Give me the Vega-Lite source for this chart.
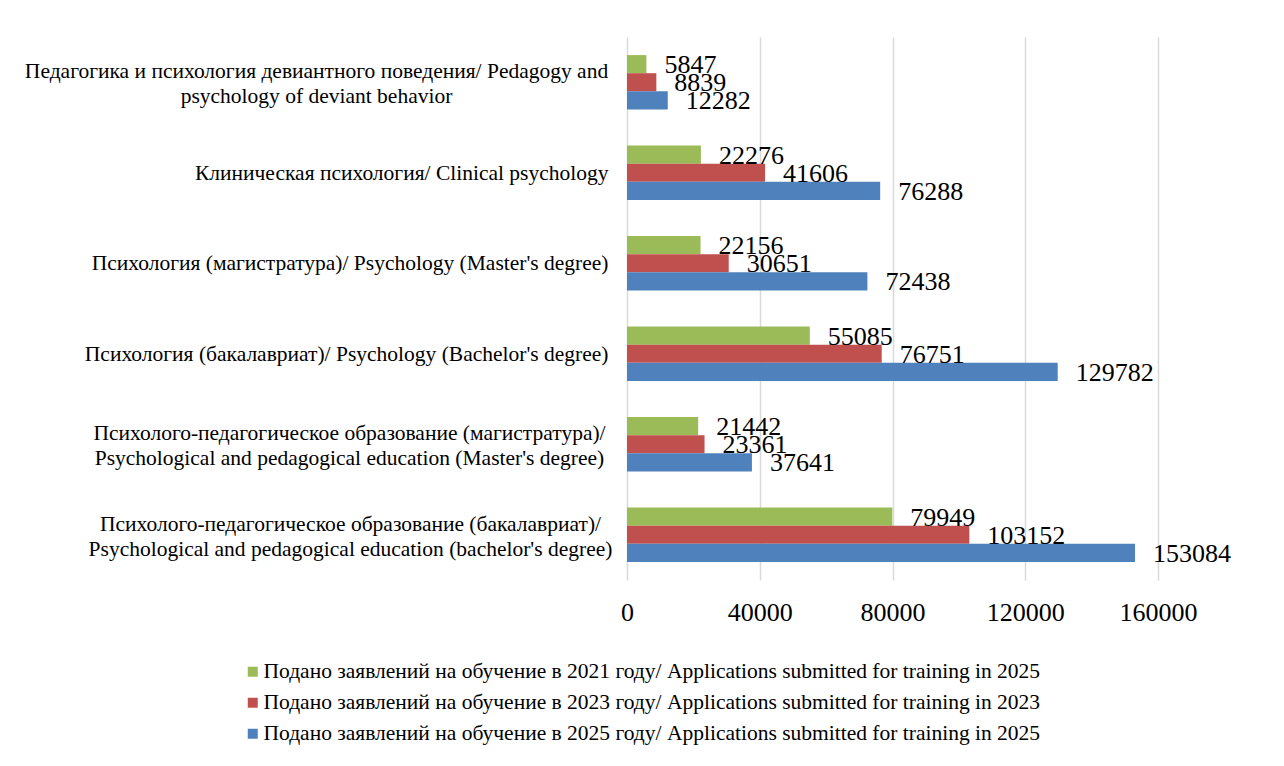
{
  "$schema": "https://vega.github.io/schema/vega-lite/v6.json",
  "width": 531,
  "height": 543,
  "autosize": {"type": "none"},
  "padding": {"left": 627, "top": 37, "right": 126, "bottom": 186},
  "background": "white",
  "config": {"font": "Liberation Serif", "view": {"stroke": null}},
  "data": {
    "values": [
      {"cat": "Педагогика и психология девиантного поведения/ Pedagogy and psychology of deviant behavior", "series": "Подано заявлений на обучение в 2021 году/ Applications submitted for training in 2025", "value": 5847},
      {"cat": "Педагогика и психология девиантного поведения/ Pedagogy and psychology of deviant behavior", "series": "Подано заявлений на обучение в 2023 году/ Applications submitted for training in 2023", "value": 8839},
      {"cat": "Педагогика и психология девиантного поведения/ Pedagogy and psychology of deviant behavior", "series": "Подано заявлений на обучение в 2025 году/ Applications submitted for training in 2025", "value": 12282},
      {"cat": "Клиническая психология/ Clinical psychology", "series": "Подано заявлений на обучение в 2021 году/ Applications submitted for training in 2025", "value": 22276},
      {"cat": "Клиническая психология/ Clinical psychology", "series": "Подано заявлений на обучение в 2023 году/ Applications submitted for training in 2023", "value": 41606},
      {"cat": "Клиническая психология/ Clinical psychology", "series": "Подано заявлений на обучение в 2025 году/ Applications submitted for training in 2025", "value": 76288},
      {"cat": "Психология (магистратура)/ Psychology (Master's degree)", "series": "Подано заявлений на обучение в 2021 году/ Applications submitted for training in 2025", "value": 22156},
      {"cat": "Психология (магистратура)/ Psychology (Master's degree)", "series": "Подано заявлений на обучение в 2023 году/ Applications submitted for training in 2023", "value": 30651},
      {"cat": "Психология (магистратура)/ Psychology (Master's degree)", "series": "Подано заявлений на обучение в 2025 году/ Applications submitted for training in 2025", "value": 72438},
      {"cat": "Психология (бакалавриат)/ Psychology (Bachelor's degree)", "series": "Подано заявлений на обучение в 2021 году/ Applications submitted for training in 2025", "value": 55085},
      {"cat": "Психология (бакалавриат)/ Psychology (Bachelor's degree)", "series": "Подано заявлений на обучение в 2023 году/ Applications submitted for training in 2023", "value": 76751},
      {"cat": "Психология (бакалавриат)/ Psychology (Bachelor's degree)", "series": "Подано заявлений на обучение в 2025 году/ Applications submitted for training in 2025", "value": 129782},
      {"cat": "Психолого-педагогическое образование (магистратура)/ Psychological and pedagogical education (Master's degree)", "series": "Подано заявлений на обучение в 2021 году/ Applications submitted for training in 2025", "value": 21442},
      {"cat": "Психолого-педагогическое образование (магистратура)/ Psychological and pedagogical education (Master's degree)", "series": "Подано заявлений на обучение в 2023 году/ Applications submitted for training in 2023", "value": 23361},
      {"cat": "Психолого-педагогическое образование (магистратура)/ Psychological and pedagogical education (Master's degree)", "series": "Подано заявлений на обучение в 2025 году/ Applications submitted for training in 2025", "value": 37641},
      {"cat": "Психолого-педагогическое образование (бакалавриат)/ Psychological and pedagogical education (bachelor's degree)", "series": "Подано заявлений на обучение в 2021 году/ Applications submitted for training in 2025", "value": 79949},
      {"cat": "Психолого-педагогическое образование (бакалавриат)/ Psychological and pedagogical education (bachelor's degree)", "series": "Подано заявлений на обучение в 2023 году/ Applications submitted for training in 2023", "value": 103152},
      {"cat": "Психолого-педагогическое образование (бакалавриат)/ Psychological and pedagogical education (bachelor's degree)", "series": "Подано заявлений на обучение в 2025 году/ Applications submitted for training in 2025", "value": 153084}
    ]
  },
  "encoding": {
    "y": {
      "field": "cat", "type": "nominal", "sort": null, "title": null,
      "scale": {"paddingInner": 0.4, "paddingOuter": 0.2},
      "axis": {
        "domain": false, "ticks": false, "labelFontSize": 21.5, "labelColor": "#000000",
        "labelLimit": 800, "labelLineHeight": 25,
        "labelAlign": {"condition": {"test": "length(datum.value) > 70", "value": "center"}, "value": "right"},
        "labelPadding": {"condition": [
          {"test": "indexof(datum.value, 'Pedagogy and') > 0", "value": 311},
          {"test": "indexof(datum.value, 'бакалавриат)/ Psychological') > 0", "value": 277},
          {"test": "indexof(datum.value, 'магистратура)/ Psychological') > 0", "value": 278}
        ], "value": 19},
        "labelOffset": {"condition": {"test": "length(datum.value) > 70", "value": -10}, "value": 1},
        "labelExpr": "length(datum.value) > 70 ? (indexof(datum.value, 'Pedagogy and') > 0 ? split(replace(datum.value, 'and ', 'and\\n'), '\\n') : split(replace(datum.value, '/ ', '/\\n'), '\\n')) : datum.value"
      }
    },
    "yOffset": {"field": "series", "type": "nominal", "sort": null},
    "x": {
      "field": "value", "type": "quantitative", "title": null,
      "scale": {"domain": [0, 160000], "nice": false},
      "axis": {
        "values": [0, 40000, 80000, 120000, 160000], "format": "d",
        "labelFontSize": 26, "labelColor": "#000000", "labelFlush": false, "labelPadding": 19,
        "grid": true, "gridColor": "#d9d9d9", "gridWidth": 1.5,
        "domain": false, "ticks": false
      }
    }
  },
  "layer": [
    {
      "mark": {"type": "bar"},
      "encoding": {
        "color": {
          "field": "series", "type": "nominal", "sort": null,
          "scale": {
            "domain": [
              "Подано заявлений на обучение в 2021 году/ Applications submitted for training in 2025",
              "Подано заявлений на обучение в 2023 году/ Applications submitted for training in 2023",
              "Подано заявлений на обучение в 2025 году/ Applications submitted for training in 2025"
            ],
            "range": ["#9BBB59", "#C0504D", "#4F81BD"]
          },
          "legend": {
            "title": null, "orient": "none", "legendX": -385, "legendY": 624,
            "direction": "vertical", "symbolType": "square", "symbolSize": 100,
            "symbolStrokeWidth": 0, "symbolOpacity": 1, "labelFontSize": 21.5, "labelColor": "#000000",
            "labelLimit": 900, "labelOffset": 0, "rowPadding": 8, "padding": 0
          }
        }
      }
    },
    {
      "mark": {"type": "text", "align": "left", "baseline": "middle", "dx": 18, "dy": 1, "fontSize": 26, "color": "#000000"},
      "encoding": {"text": {"field": "value", "type": "quantitative", "format": "d"}}
    }
  ]
}
